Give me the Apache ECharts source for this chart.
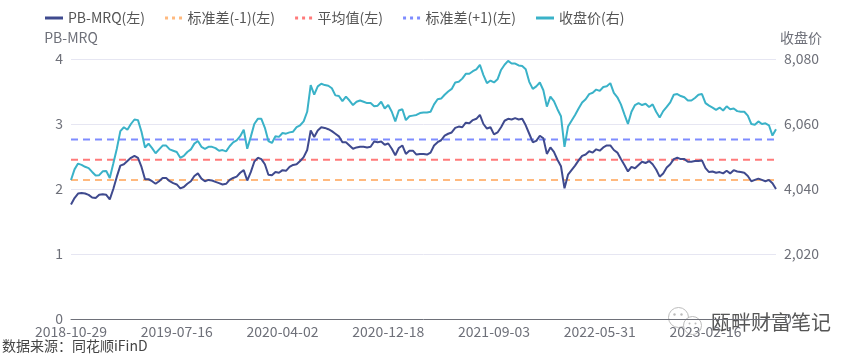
<!DOCTYPE html>
<html><head><meta charset="utf-8">
<script src="https://cdn.jsdelivr.net/npm/echarts@6/dist/echarts.min.js"></script>
<style>html,body{margin:0;padding:0;background:#fff}#c{width:861px;height:359px}</style>
</head><body><div id="c"></div>
<script>
const tickLabels = ['2018-10-29','2019-07-16','2020-04-02','2020-12-18','2021-09-03','2022-05-31','2023-02-16'];
const pointsPerTick = 30;
const tailPoints = 20;
const tailStepDays = 8.7;

const pbValues = [
1.76,1.86,1.93,1.94,1.93,1.91,1.87,1.86,1.91,1.92, 1.91,1.84,2.00,2.19,2.36,2.38,2.43,2.48,2.51,2.48,
2.34,2.15,2.15,2.12,2.08,2.12,2.17,2.17,2.12,2.09, 2.07,2.01,2.03,2.08,2.12,2.20,2.24,2.16,2.12,2.14,
2.13,2.11,2.09,2.07,2.08,2.14,2.17,2.19,2.25,2.29, 2.13,2.26,2.42,2.48,2.46,2.38,2.22,2.21,2.26,2.25,
2.29,2.28,2.34,2.37,2.38,2.43,2.49,2.60,2.90,2.80, 2.90,2.95,2.94,2.92,2.89,2.85,2.81,2.72,2.72,2.67,
2.62,2.64,2.65,2.65,2.64,2.65,2.73,2.72,2.73,2.68, 2.70,2.62,2.52,2.63,2.67,2.54,2.59,2.59,2.53,2.54,
2.54,2.53,2.56,2.67,2.72,2.75,2.82,2.85,2.87,2.94, 2.96,2.95,3.02,3.01,3.06,3.08,3.14,3.00,2.93,2.95,
2.84,2.87,2.95,3.05,3.08,3.07,3.09,3.07,3.08,2.98, 2.85,2.72,2.74,2.82,2.78,2.54,2.64,2.57,2.45,2.35,
2.01,2.22,2.29,2.36,2.44,2.51,2.53,2.58,2.56,2.61, 2.59,2.64,2.67,2.67,2.60,2.56,2.46,2.37,2.27,2.34,
2.32,2.37,2.42,2.40,2.43,2.38,2.30,2.19,2.24,2.33, 2.38,2.46,2.48,2.46,2.46,2.42,2.42,2.43,2.43,2.44,
2.32,2.26,2.27,2.25,2.26,2.24,2.28,2.24,2.29,2.27, 2.26,2.25,2.20,2.12,2.14,2.16,2.14,2.12,2.14,2.09,
2.00
];

const closeValues = [
4320,4650,4830,4790,4730,4690,4570,4460,4470,4590, 4600,4380,4830,5290,5840,5960,5880,6060,6200,6180,
5820,5330,5450,5310,5150,5270,5390,5390,5270,5230, 5190,5010,5070,5190,5270,5450,5530,5350,5290,5350,
5350,5310,5230,5250,5210,5370,5490,5550,5680,5880, 5290,5660,6060,6220,6220,5940,5530,5470,5680,5660,
5780,5760,5800,5820,5960,6020,6140,6440,7270,6970, 7230,7310,7270,7250,7170,6950,6930,6770,6910,6790,
6650,6750,6790,6750,6710,6710,6610,6630,6750,6540, 6650,6440,6140,6480,6520,6180,6300,6320,6340,6400,
6420,6420,6440,6670,6830,6850,6970,7070,7150,7350, 7370,7470,7620,7620,7700,7760,7900,7580,7330,7410,
7350,7450,7740,7900,8020,7940,7940,7880,7860,7760, 7370,7150,7230,7350,7110,6600,6910,6770,6520,6300,
5350,5980,6160,6340,6540,6730,6830,6990,7030,7130, 7090,7210,7230,7330,7030,6890,6670,6360,6060,6440,
6650,6710,6650,6690,6590,6670,6440,6260,6460,6590, 6730,6970,6990,6930,6890,6790,6790,6870,6970,6990,
6710,6630,6570,6500,6570,6480,6610,6520,6540,6460, 6440,6440,6320,6060,6040,6140,6060,6080,6020,5700,
5900
];

const stdMinusValue = 2.14;
const meanValue = 2.45;
const stdPlusValue = 2.76;

const leftAxis = { min: 0, max: 4, interval: 1 };
const rightAxis = { min: 0, max: 8080, interval: 2020 };

function fmt(d) {
  const p = n => String(n).padStart(2, '0');
  return d.getUTCFullYear() + '-' + p(d.getUTCMonth() + 1) + '-' + p(d.getUTCDate());
}
const DAY = 86400000;
const categories = [];
for (let s = 0; s < tickLabels.length - 1; s++) {
  const t0 = Date.parse(tickLabels[s] + 'T00:00:00Z');
  const t1 = Date.parse(tickLabels[s + 1] + 'T00:00:00Z');
  for (let k = 0; k < pointsPerTick; k++) {
    categories.push(k === 0 ? tickLabels[s] : fmt(new Date(t0 + Math.round((t1 - t0) * k / pointsPerTick / DAY) * DAY)));
  }
}
{
  const tl = Date.parse(tickLabels[tickLabels.length - 1] + 'T00:00:00Z');
  categories.push(tickLabels[tickLabels.length - 1]);
  for (let k = 1; k <= tailPoints; k++) categories.push(fmt(new Date(tl + Math.round(k * tailStepDays) * DAY)));
}

const FONT = '"Noto Sans CJK SC", "Noto Sans", sans-serif';
const chart = echarts.init(document.getElementById('c'), null, { renderer: 'canvas' });

const SOLID_ICON = 'path://M0,0H18V3H0Z';
const DOT_ICON = 'path://M0,0H3V3H0Z M7,0H10V3H7Z M14,0H17V3H14Z';

function refLine(name, value, color) {
  return {
    name, type: 'line', yAxisIndex: 0, symbol: 'none', z: 1, silent: true,
    data: categories.map(() => value),
    lineStyle: { color, width: 2, type: [7, 5] },
    itemStyle: { color }
  };
}

chart.setOption({
  animation: false,
  textStyle: { fontFamily: FONT },
  legend: {
    left: 40, top: 6, itemWidth: 18, itemHeight: 3, itemGap: 20,
    textStyle: { fontSize: 14, color: '#555', fontFamily: FONT },
    data: [
      { name: 'PB-MRQ(左)', icon: SOLID_ICON },
      { name: '标准差(-1)(左)', icon: DOT_ICON },
      { name: '平均值(左)', icon: DOT_ICON },
      { name: '标准差(+1)(左)', icon: DOT_ICON },
      { name: '收盘价(右)', icon: SOLID_ICON }
    ]
  },
  grid: { left: 71, right: 85, top: 59, bottom: 40, containLabel: false },
  xAxis: {
    type: 'category', data: categories, boundaryGap: false,
    axisLine: { lineStyle: { color: '#6E7079', width: 1 } },
    axisTick: { show: false },
    axisLabel: { interval: pointsPerTick - 1, color: '#6E7079', fontSize: 14, margin: 6, fontFamily: FONT }
  },
  yAxis: [
    {
      type: 'value', min: leftAxis.min, max: leftAxis.max, interval: leftAxis.interval,
      name: 'PB-MRQ', nameGap: 14,
      nameTextStyle: { color: '#6E7079', fontSize: 14, fontFamily: FONT },
      axisLabel: { color: '#6E7079', fontSize: 14, margin: 8, fontFamily: FONT },
      splitLine: { lineStyle: { color: '#E6E6F2' } },
      axisLine: { show: false }, axisTick: { show: false }
    },
    {
      type: 'value', min: rightAxis.min, max: rightAxis.max, interval: rightAxis.interval,
      name: '收盘价', nameGap: 14,
      nameTextStyle: { color: '#6E7079', fontSize: 14, align: 'left', padding: [0, 0, 0, 4], fontFamily: FONT },
      axisLabel: { color: '#6E7079', fontSize: 14, margin: 8, fontFamily: FONT },
      splitLine: { show: false },
      axisLine: { show: false }, axisTick: { show: false }
    }
  ],
  series: [
    {
      name: 'PB-MRQ(左)', type: 'line', yAxisIndex: 0, symbol: 'none', z: 3,
      data: pbValues, lineStyle: { color: '#3F4A8E', width: 2 }, itemStyle: { color: '#3F4A8E' }
    },
    refLine('标准差(-1)(左)', stdMinusValue, '#FFB97E'),
    refLine('平均值(左)', meanValue, '#FF7A7A'),
    refLine('标准差(+1)(左)', stdPlusValue, '#7E8CFF'),
    {
      name: '收盘价(右)', type: 'line', yAxisIndex: 1, symbol: 'none', z: 2,
      data: closeValues, lineStyle: { color: '#3AB2C8', width: 2 }, itemStyle: { color: '#3AB2C8' }
    }
  ],
  graphic: [
    {
      type: 'text', left: 2, top: 339,
      style: { text: '数据来源：同花顺iFinD', fill: '#444', fontSize: 14, fontFamily: FONT }
    },
    {
      type: 'group', left: 668, top: 307, silent: true,
      children: [
        { type: 'circle', shape: { cx: 12, cy: 11, r: 10 }, style: { fill: 'rgba(255,255,255,0.8)', stroke: '#bbb', lineWidth: 1 } },
        { type: 'circle', shape: { cx: 26, cy: 19, r: 9 }, style: { fill: 'rgba(255,255,255,0.9)', stroke: '#bbb', lineWidth: 1 } },
        { type: 'circle', shape: { cx: 8, cy: 8, r: 1.2 }, style: { fill: '#bbb' } },
        { type: 'circle', shape: { cx: 15, cy: 8, r: 1.2 }, style: { fill: '#bbb' } },
        { type: 'circle', shape: { cx: 23, cy: 17, r: 1 }, style: { fill: '#bbb' } },
        { type: 'circle', shape: { cx: 29, cy: 17, r: 1 }, style: { fill: '#bbb' } }
      ]
    },
    {
      type: 'text', left: 710, top: 311,
      style: { text: '瓯畔财富笔记', fill: '#555', fontSize: 20, fontFamily: FONT, stroke: '#fff', lineWidth: 2 }
    }
  ]
});
</script>
</body></html>
